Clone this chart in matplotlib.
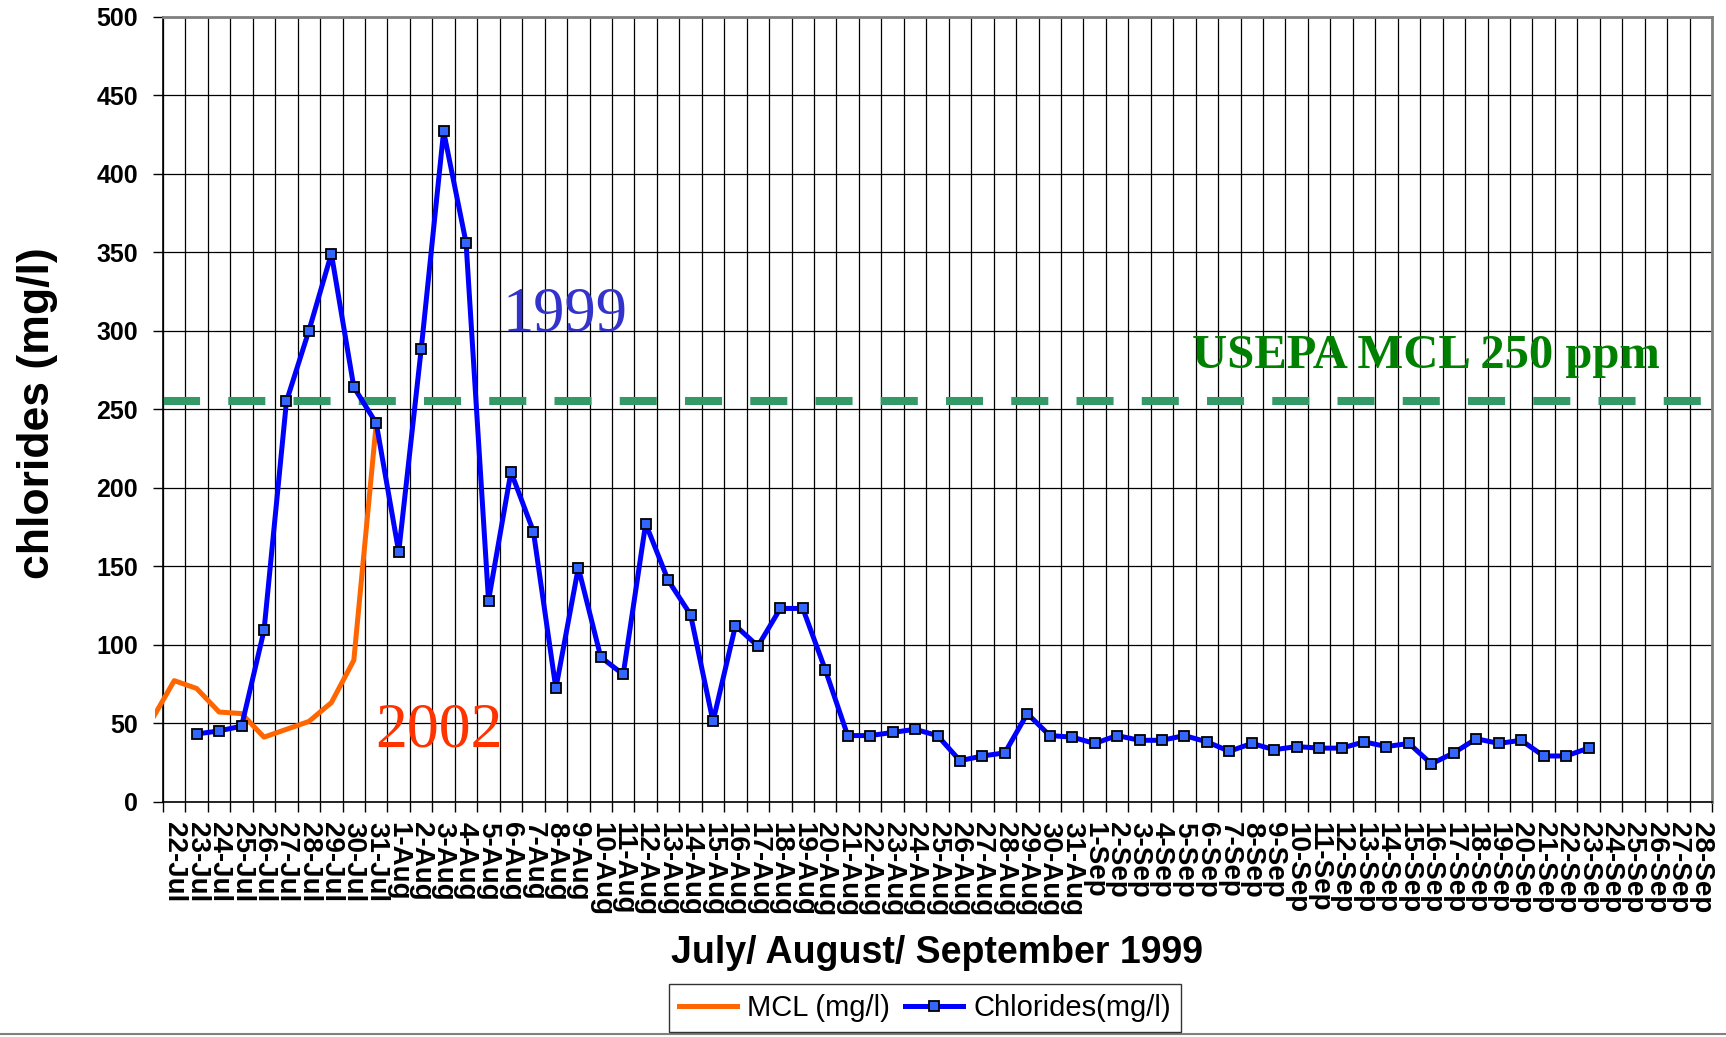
import matplotlib.pyplot as plt
import numpy as np
from matplotlib.lines import Line2D

plt.rcParams['font.family'] = ['Liberation Sans', 'DejaVu Sans']

# date categories 22-Jul .. 28-Sep 1999
dates = ([f"{d}-Jul" for d in range(22, 32)] +
         [f"{d}-Aug" for d in range(1, 32)] +
         [f"{d}-Sep" for d in range(1, 29)])

# chlorides 1999, first reading on 23-Jul, last on 23-Sep
chlorides_start = 1
chlorides = [43, 45, 48, 109, 255, 300, 349, 264, 241, 159,
             288, 427, 356, 128, 210, 172, 72, 149, 92, 81,
             177, 141, 119, 51, 112, 99, 123, 123, 84, 42,
             42, 44, 46, 42, 26, 29, 31, 56, 42, 41,
             37, 42, 39, 39, 42, 38, 32, 37, 33, 35,
             34, 34, 38, 35, 37, 24, 31, 40, 37, 39,
             29, 29, 34]

# 2002 series (labelled MCL in the legend), starts one slot before 22-Jul
mcl_start = -1
mcl = [52, 77, 72, 57, 56, 41, 46, 51, 63, 90, 241]

usepa_mcl = 255
yticks = list(range(0, 501, 50))

n = len(dates)
x_chl = np.arange(len(chlorides)) + chlorides_start
x_mcl = np.arange(len(mcl)) + mcl_start

fig = plt.figure(figsize=(17.26, 10.37), dpi=100)
ax = fig.add_axes([163/1726, 1 - 801.5/1037, (1712-163)/1726, (801.5-16.7)/1037])

mcl_line, = ax.plot(x_mcl, mcl, color='#FF6600', lw=3.6, label='MCL (mg/l)', zorder=3)
ax.plot(x_chl, chlorides, color='#0000FF', lw=3.6, marker='s', markersize=7,
        markerfacecolor='#3366FF', markeredgecolor='black', markeredgewidth=1.3,
        label='Chlorides(mg/l)', zorder=4)

# USEPA limit, dashes run past the plot edge
ax.axhline(usepa_mcl, xmin=0, xmax=1.01, color='#339966', lw=5.8,
           dashes=(4.6, 3.5), dash_capstyle='butt', clip_on=False, zorder=2)

ax.text(55.75, 276, 'USEPA MCL 250 ppm', family='Liberation Serif', fontweight='bold',
        fontsize=35, color='#008000', ha='center', va='baseline')
ax.text(17.4, 300, '1999', family='Liberation Serif', fontsize=45,
        color='#3333CC', ha='center', va='baseline')
ax.text(11.8, 35, '2002', family='Liberation Serif', fontsize=46,
        color='#FF3300', ha='center', va='baseline')

ax.set_xlim(-0.5, n - 0.5)
ax.set_ylim(0, 500)
ax.set_yticks(yticks)
ax.set_yticklabels([str(v) for v in yticks], fontsize=18, fontweight='bold')
ax.tick_params(axis='y', length=7, width=1, pad=11)

ax.set_xticks(np.arange(n + 1) - 0.5)
ax.set_xticklabels([])
ax.tick_params(axis='x', which='major', length=7, width=1)
ax.set_xticks(np.arange(n), minor=True)
ax.set_xticklabels(dates, minor=True, rotation=270, fontsize=20, fontweight='bold')
ax.tick_params(axis='x', which='minor', length=0, pad=15)

ax.grid(True, which='major', color='black', lw=0.9)
ax.set_axisbelow(True)
for s in ['top', 'right']:
    ax.spines[s].set_color('#808080')
    ax.spines[s].set_linewidth(2)
for s in ['left', 'bottom']:
    ax.spines[s].set_color('black')
    ax.spines[s].set_linewidth(1.2)

# let the 2002 line poke a little past the left axis, like the original
fig.canvas.draw()
bb = ax.get_window_extent()
from matplotlib.transforms import Bbox, TransformedBbox
mcl_line.set_clip_box(Bbox.from_extents(bb.x0 - 8, bb.y0, bb.x1, bb.y1))

fig.text(37/1726, 1 - 413/1037, 'chlorides (mg/l)', rotation=90, fontsize=32,
         fontweight='bold', ha='center', va='center')
fig.text(937/1726, 1 - 953/1037, 'July/ August/ September 1999', fontsize=27,
         fontweight='bold', ha='center', va='center')

fig.legend(loc='center', bbox_to_anchor=(925/1726, 1 - 1008/1037), ncol=2,
           fontsize=21, frameon=True, fancybox=False, edgecolor='black',
           handlelength=2.0, handletextpad=0.35, columnspacing=0.5,
           borderpad=0.35)
fig.add_artist(Line2D([0, 1], [0.003, 0.003], transform=fig.transFigure,
                      color='#808080', lw=1.5))

plt.savefig('out.png', dpi=100)
